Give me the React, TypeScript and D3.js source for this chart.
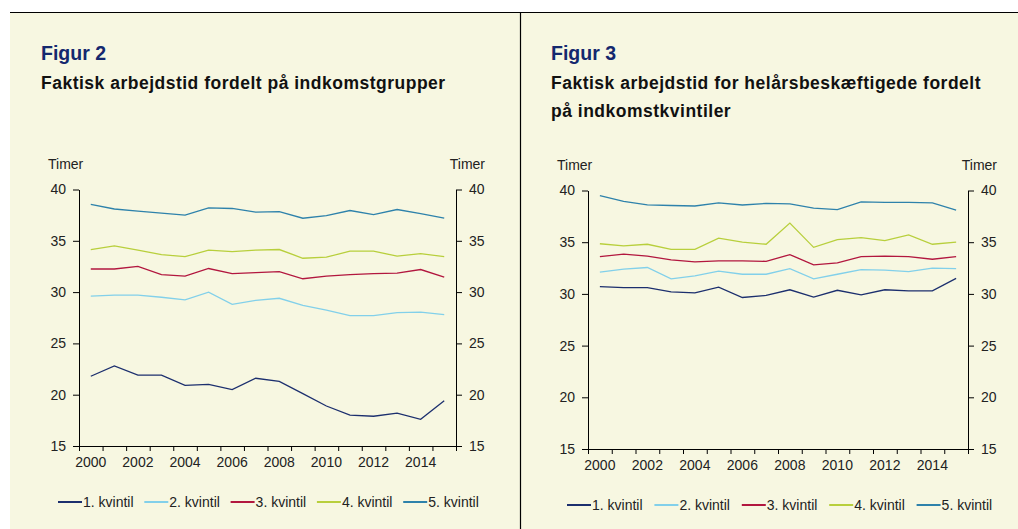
import React, { useEffect, useRef } from 'react';
import * as d3 from 'd3';

const years = [2000, 2001, 2002, 2003, 2004, 2005, 2006, 2007, 2008, 2009, 2010, 2011, 2012, 2013, 2014, 2015];
const yearLabels = [2000, 2002, 2004, 2006, 2008, 2010, 2012, 2014];
const yTicks = [15, 20, 25, 30, 35, 40];
const seriesNames = ['1. kvintil', '2. kvintil', '3. kvintil', '4. kvintil', '5. kvintil'];
const seriesColors = ['#1c2f6e', '#82d0ea', '#b2173f', '#b8cf3c', '#2e82ab'];

// Figur 2 - alle
const fig2Q1 = [21.8, 22.8, 21.9, 21.9, 20.9, 21.0, 20.5, 21.6, 21.3, 20.1, 18.9, 18.0, 17.9, 18.2, 17.6, 19.4];
const fig2Q2 = [29.6, 29.7, 29.7, 29.5, 29.25, 30.0, 28.8, 29.2, 29.4, 28.7, 28.25, 27.7, 27.7, 28.0, 28.05, 27.8];
const fig2Q3 = [32.25, 32.25, 32.5, 31.7, 31.55, 32.3, 31.8, 31.9, 32.0, 31.3, 31.55, 31.7, 31.8, 31.85, 32.2, 31.45];
const fig2Q4 = [34.15, 34.5, 34.1, 33.65, 33.45, 34.1, 33.95, 34.1, 34.15, 33.3, 33.4, 34.0, 34.0, 33.5, 33.75, 33.45];
const fig2Q5 = [38.55, 38.1, 37.9, 37.7, 37.5, 38.2, 38.15, 37.8, 37.85, 37.2, 37.45, 37.95, 37.55, 38.05, 37.65, 37.2];

// Figur 3 - helårsbeskæftigede
const fig3Q1 = [30.7, 30.6, 30.6, 30.2, 30.1, 30.65, 29.65, 29.85, 30.4, 29.7, 30.35, 29.9, 30.4, 30.3, 30.3, 31.5];
const fig3Q2 = [32.1, 32.4, 32.55, 31.45, 31.75, 32.2, 31.9, 31.9, 32.45, 31.45, 31.9, 32.35, 32.3, 32.15, 32.5, 32.45];
const fig3Q3 = [33.6, 33.85, 33.65, 33.3, 33.1, 33.2, 33.2, 33.15, 33.8, 32.8, 33.0, 33.6, 33.65, 33.6, 33.35, 33.6];
const fig3Q4 = [34.85, 34.65, 34.8, 34.3, 34.3, 35.4, 35.0, 34.8, 36.85, 34.5, 35.25, 35.45, 35.15, 35.7, 34.8, 35.0];
const fig3Q5 = [39.5, 38.95, 38.6, 38.55, 38.5, 38.8, 38.6, 38.75, 38.7, 38.3, 38.15, 38.9, 38.85, 38.85, 38.8, 38.1];

const FONT = '"Liberation Sans", Arial, sans-serif';

interface PanelSpec {
  titleX: number;
  title: string;
  subtitle: string[];
  x0: number;
  x1: number;
  y0: number;
  y1: number;
  legendX: number;
  legendY: number;
  legendStep: number;
  series: number[][];
}

const panels: PanelSpec[] = [
  {
    titleX: 41,
    title: 'Figur 2',
    subtitle: ['Faktisk arbejdstid fordelt på indkomstgrupper'],
    x0: 79, x1: 456, y0: 189.5, y1: 446,
    legendX: 58, legendY: 502, legendStep: 86.3,
    series: [fig2Q1, fig2Q2, fig2Q3, fig2Q4, fig2Q5],
  },
  {
    titleX: 551,
    title: 'Figur 3',
    subtitle: ['Faktisk arbejdstid for helårsbeskæftigede fordelt', 'på indkomstkvintiler'],
    x0: 588, x1: 968, y0: 190.5, y1: 449,
    legendX: 567, legendY: 505, legendStep: 87.4,
    series: [fig3Q1, fig3Q2, fig3Q3, fig3Q4, fig3Q5],
  },
];

function drawPanel(svg: d3.Selection<SVGSVGElement, unknown, null, undefined>, s: PanelSpec) {
  const g = svg.append('g');

  g.append('text')
    .attr('x', s.titleX).attr('y', 60)
    .style('font-family', FONT).style('font-weight', 'bold').style('font-size', '19.5px')
    .style('fill', '#14286e')
    .text(s.title);

  s.subtitle.forEach((line, i) => {
    g.append('text')
      .attr('x', s.titleX).attr('y', 89 + i * 28)
      .style('font-family', FONT).style('font-weight', 'bold').style('font-size', '17.5px')
      .style('letter-spacing', '0.5px')
      .style('fill', '#111')
      .text(line);
  });

  const x = d3.scaleLinear()
    .domain([years[0], years[years.length - 1] + 1])
    .range([s.x0, s.x1]);
  const y = d3.scaleLinear().domain([15, 40]).range([s.y1, s.y0]);

  const styleAxis = (a: d3.Selection<SVGGElement, unknown, null, undefined>) => {
    a.attr('font-family', FONT).attr('font-size', 14);
    a.selectAll('path').attr('stroke', '#000');
    a.selectAll('line').attr('stroke', '#000');
    a.selectAll('text').attr('fill', '#222');
  };

  const left = g.append('g')
    .attr('transform', `translate(${s.x0},0)`)
    .call(d3.axisLeft(y).tickValues(yTicks).tickSize(6).tickPadding(7).tickSizeOuter(0));
  styleAxis(left);

  const right = g.append('g')
    .attr('transform', `translate(${s.x1},0)`)
    .call(d3.axisRight(y).tickValues(yTicks).tickSize(6).tickPadding(7).tickSizeOuter(0));
  styleAxis(right);

  const bounds = years.concat([years[years.length - 1] + 1]);
  const bottom = g.append('g')
    .attr('transform', `translate(0,${s.y1})`)
    .call(d3.axisBottom(x).tickValues(bounds).tickFormat(() => '').tickSize(5).tickSizeOuter(0));
  styleAxis(bottom);

  g.selectAll('.xlab')
    .data(yearLabels)
    .enter().append('text')
    .attr('x', (d) => x(d + 0.5))
    .attr('y', s.y1 + 21)
    .attr('text-anchor', 'middle')
    .style('font-family', FONT).style('font-size', '14px').style('fill', '#222')
    .text((d) => String(d));

  g.append('text')
    .attr('x', s.x0 - 31).attr('y', s.y0 - 21)
    .style('font-family', FONT).style('font-size', '14px').style('fill', '#222')
    .text('Timer');
  g.append('text')
    .attr('x', s.x1 + 29).attr('y', s.y0 - 21)
    .attr('text-anchor', 'end')
    .style('font-family', FONT).style('font-size', '14px').style('fill', '#222')
    .text('Timer');

  const line = d3.line<number>()
    .x((_, i) => x(years[i] + 0.5))
    .y((d) => y(d));

  s.series.forEach((vals, i) => {
    g.append('path')
      .datum(vals)
      .attr('d', line)
      .attr('fill', 'none')
      .attr('stroke', seriesColors[i])
      .attr('stroke-width', 1.3);
  });

  const leg = g.selectAll('.leg')
    .data(seriesNames)
    .enter().append('g')
    .attr('transform', (_, i) => `translate(${s.legendX + i * s.legendStep},${s.legendY})`);
  leg.append('line')
    .attr('x1', 0).attr('x2', 24).attr('y1', 0).attr('y2', 0)
    .attr('stroke', (_, i) => seriesColors[i])
    .attr('stroke-width', 2);
  leg.append('text')
    .attr('x', 25).attr('y', 5)
    .style('font-family', FONT).style('font-size', '14px').style('fill', '#222')
    .text((d) => d);
}

const App = () => {
  const ref = useRef<SVGSVGElement | null>(null);

  useEffect(() => {
    if (!ref.current) return;
    const svg = d3.select(ref.current);
    svg.selectAll('*').remove();

    svg.append('rect').attr('width', 1018).attr('height', 529).attr('fill', '#fff');
    svg.append('rect')
      .attr('x', 10).attr('y', 12).attr('width', 1008).attr('height', 517)
      .attr('fill', '#f7f7e1');
    svg.append('line')
      .attr('x1', 10).attr('x2', 1018).attr('y1', 12.5).attr('y2', 12.5)
      .attr('stroke', '#000').attr('stroke-width', 1.2);
    svg.append('line')
      .attr('x1', 520.5).attr('x2', 520.5).attr('y1', 12).attr('y2', 529)
      .attr('stroke', '#000').attr('stroke-width', 1.2);

    panels.forEach((p) => drawPanel(svg, p));
  }, []);

  return (
    <svg
      ref={ref}
      width={1018}
      height={529}
      style={{ position: 'absolute', left: 0, top: 0 }}
    />
  );
};

export default App;
